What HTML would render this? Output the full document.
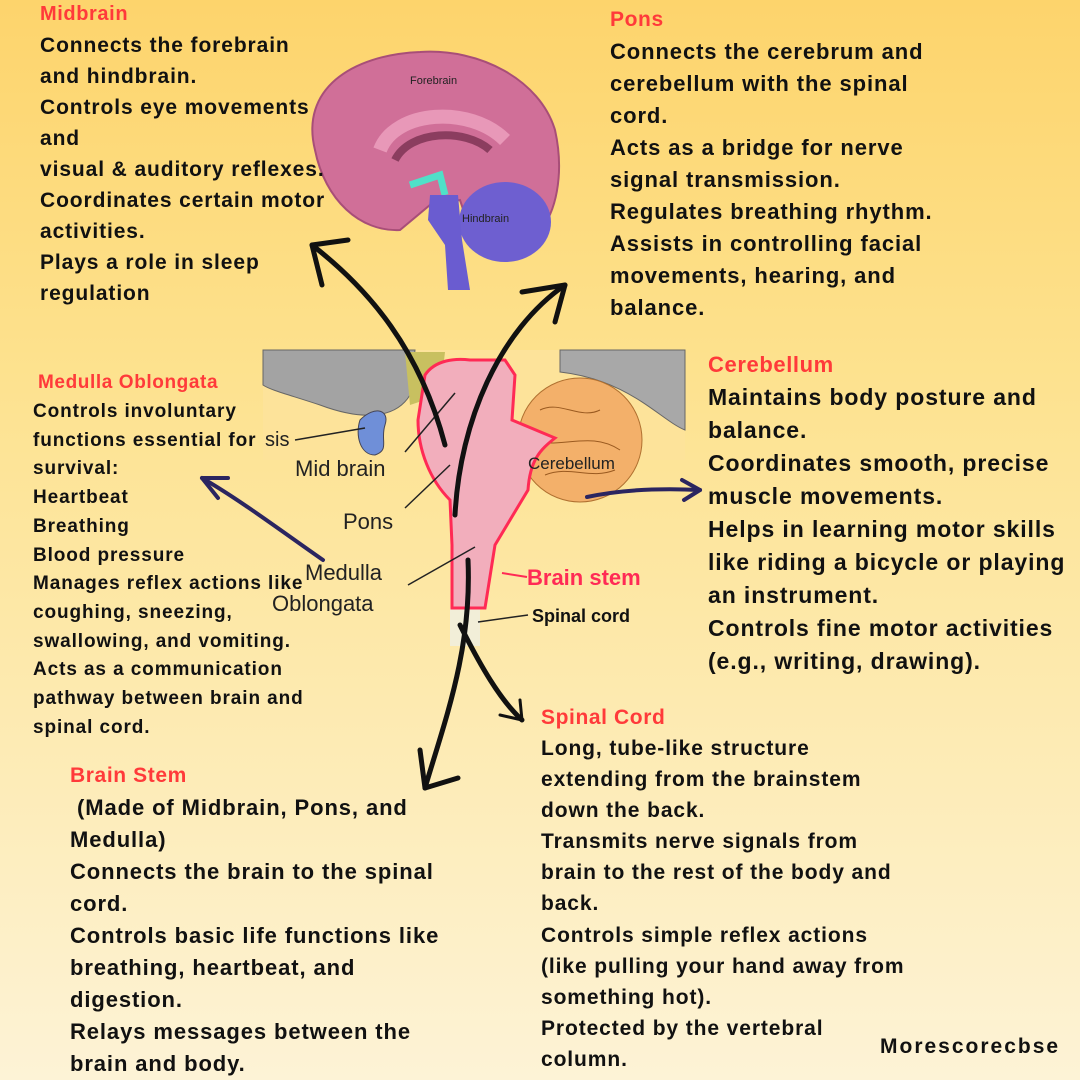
<!DOCTYPE html>
<html><head><meta charset="utf-8"><style>
body{margin:0}
#c{position:relative;width:1080px;height:1080px;overflow:hidden;background:linear-gradient(180deg,#fdd46c 0%,#fde28f 35%,#fdeab0 65%,#fdf3d6 100%);font-family:"Liberation Sans",sans-serif}
.b{position:absolute;font-weight:bold;color:#111;white-space:nowrap;letter-spacing:0.9px}
.t{position:absolute;font-weight:bold;color:#ff3a3a;white-space:nowrap;letter-spacing:0.6px}
svg{position:absolute;left:0;top:0}
</style></head><body><div id="c">
<svg width="1080" height="1080">
<path d="M315 150 C300 90 350 55 420 52 C480 48 540 80 555 130 C565 175 555 215 540 230 L470 230 L460 200 L430 205 L400 230 C360 232 325 200 315 150Z" fill="#d06f98" stroke="#a84e78" stroke-width="2"/>
<path d="M380 150 C395 110 470 105 505 140" fill="none" stroke="#e898b8" stroke-width="14"/>
<path d="M395 160 C410 130 465 128 490 150" fill="none" stroke="#8b3d5f" stroke-width="8"/>
<path d="M410 185 L440 175 L445 195" fill="none" stroke="#4fe0c8" stroke-width="7"/>
<ellipse cx="505" cy="222" rx="46" ry="40" fill="#6e5fd0"/>
<path d="M430 195 L458 195 L462 240 L470 290 L448 290 L445 245 L428 220Z" fill="#6a5cd0"/>
<text x="410" y="84" font-size="11" fill="#222" font-family="Liberation Sans">Forebrain</text>
<text x="462" y="222" font-size="11" fill="#222" font-family="Liberation Sans">Hindbrain</text>
<rect x="263" y="350" width="422" height="110" fill="#fde39a"/>
<path d="M263 350 L415 350 L410 395 C395 420 360 420 320 405 C290 395 270 390 263 385Z" fill="#a3a3a3" stroke="#666" stroke-width="1"/>
<path d="M560 350 L685 350 L685 430 C660 420 630 380 560 372Z" fill="#a8a8a8" stroke="#666" stroke-width="1"/>
<path d="M405 352 L445 352 L440 395 L410 405Z" fill="#c8c060"/>
<path d="M360 420 C375 405 390 410 385 425 C380 440 390 450 375 455 C360 455 355 435 360 420Z" fill="#6f8fd8" stroke="#445" stroke-width="1"/>
<circle cx="580" cy="440" r="62" fill="#f3b06a" stroke="#b07030" stroke-width="1"/>
<path d="M540 410 C560 400 580 420 600 410 M530 440 C560 450 590 430 620 450 M545 475 C570 465 590 480 615 470" fill="none" stroke="#9a5a20" stroke-width="1"/>
<rect x="450" y="608" width="30" height="38" fill="#f2eed8"/>
<path d="M425 375 C435 360 455 358 470 360 L505 360 L515 375 L512 420 L555 438 C540 450 530 460 528 490 L495 545 L485 608 L452 608 L452 545 L450 500 C430 480 418 450 418 420Z" fill="#f2aebc" stroke="#ff2a55" stroke-width="3"/>
<g stroke="#222" stroke-width="1.5">
<line x1="295" y1="440" x2="365" y2="428"/>
<line x1="405" y1="452" x2="455" y2="393"/>
<line x1="405" y1="508" x2="450" y2="465"/>
<line x1="408" y1="585" x2="475" y2="547"/>
<line x1="478" y1="622" x2="528" y2="615"/>
</g>
<path d="M502 573 L527 577" stroke="#ff2a55" stroke-width="2"/>
<text x="265" y="446" font-size="20" fill="#222" font-family="Liberation Sans">sis</text>
<text x="295" y="476" font-size="22" fill="#222" font-family="Liberation Sans">Mid brain</text>
<text x="343" y="529" font-size="22" fill="#222" font-family="Liberation Sans">Pons</text>
<text x="305" y="580" font-size="22" fill="#222" font-family="Liberation Sans">Medulla</text>
<text x="272" y="611" font-size="22" fill="#222" font-family="Liberation Sans">Oblongata</text>
<text x="528" y="469" font-size="17" fill="#222" font-family="Liberation Sans">Cerebellum</text>
<text x="527" y="585" font-size="22" font-weight="bold" fill="#ff2a55" font-family="Liberation Sans">Brain stem</text>
<text x="532" y="622" font-size="18" font-weight="bold" fill="#111" font-family="Liberation Sans">Spinal cord</text>
<g fill="none" stroke="#111" stroke-width="5" stroke-linecap="round">
<path d="M445 445 C420 350 370 290 312 245"/>
<path d="M312 245 L348 240 M312 245 L322 285"/>
<path d="M455 515 C460 420 500 330 565 285"/>
<path d="M565 285 L522 292 M565 285 L555 322"/>
<path d="M468 560 C472 650 445 720 425 788"/>
<path d="M425 788 L420 750 M425 788 L458 778"/>
<path d="M460 625 C480 665 500 700 522 720"/>
<path d="M522 720 L500 715 M522 720 L520 700" stroke-width="3"/>
</g>
<g fill="none" stroke="#2b2560" stroke-width="4" stroke-linecap="round">
<path d="M323 560 C280 530 240 500 202 478"/>
<path d="M202 478 L218 498 M202 478 L228 478"/>
<path d="M587 497 C620 490 660 488 700 490"/>
<path d="M700 490 L682 480 M700 490 L684 500"/>
</g>
</svg>

<div class="t" style="left:40px;top:3px;font-size:20px">Midbrain</div>
<div class="b" style="left:40px;top:30px;font-size:21px;line-height:31px">Connects the forebrain<br>and hindbrain.<br>Controls eye movements<br>and<br>visual &amp; auditory reflexes.<br>Coordinates certain motor<br>activities.<br>Plays a role in sleep<br>regulation</div>

<div class="t" style="left:610px;top:8px;font-size:21px">Pons</div>
<div class="b" style="left:610px;top:36px;font-size:22px;line-height:32px">Connects the cerebrum and<br>cerebellum with the spinal<br>cord.<br>Acts as a bridge for nerve<br>signal transmission.<br>Regulates breathing rhythm.<br>Assists in controlling facial<br>movements, hearing, and<br>balance.</div>

<div class="t" style="left:708px;top:352px;font-size:22px">Cerebellum</div>
<div class="b" style="left:708px;top:381px;font-size:23px;line-height:33px">Maintains body posture and<br>balance.<br>Coordinates smooth, precise<br>muscle movements.<br>Helps in learning motor skills<br>like riding a bicycle or playing<br>an instrument.<br>Controls fine motor activities<br>(e.g., writing, drawing).</div>

<div class="t" style="left:38px;top:372px;font-size:19px">Medulla Oblongata</div>
<div class="b" style="left:33px;top:398px;font-size:19px;line-height:28.7px">Controls involuntary<br>functions essential for<br>survival:<br>Heartbeat<br>Breathing<br>Blood pressure<br>Manages reflex actions like<br>coughing, sneezing,<br>swallowing, and vomiting.<br>Acts as a communication<br>pathway between brain and<br>spinal cord.</div>

<div class="t" style="left:70px;top:764px;font-size:21px">Brain Stem</div>
<div class="b" style="left:70px;top:792px;font-size:22px;line-height:32px">&nbsp;(Made of Midbrain, Pons, and<br>Medulla)<br>Connects the brain to the spinal<br>cord.<br>Controls basic life functions like<br>breathing, heartbeat, and<br>digestion.<br>Relays messages between the<br>brain and body.</div>

<div class="t" style="left:541px;top:706px;font-size:21px">Spinal Cord</div>
<div class="b" style="left:541px;top:733px;font-size:21px;line-height:31.1px">Long, tube-like structure<br>extending from the brainstem<br>down the back.<br>Transmits nerve signals from<br>brain to the rest of the body and<br>back.<br>Controls simple reflex actions<br>(like pulling your hand away from<br>something hot).<br>Protected by the vertebral<br>column.</div>

<div class="b" style="left:880px;top:1035px;font-size:21px;letter-spacing:2px">Morescorecbse</div>
</div></body></html>
